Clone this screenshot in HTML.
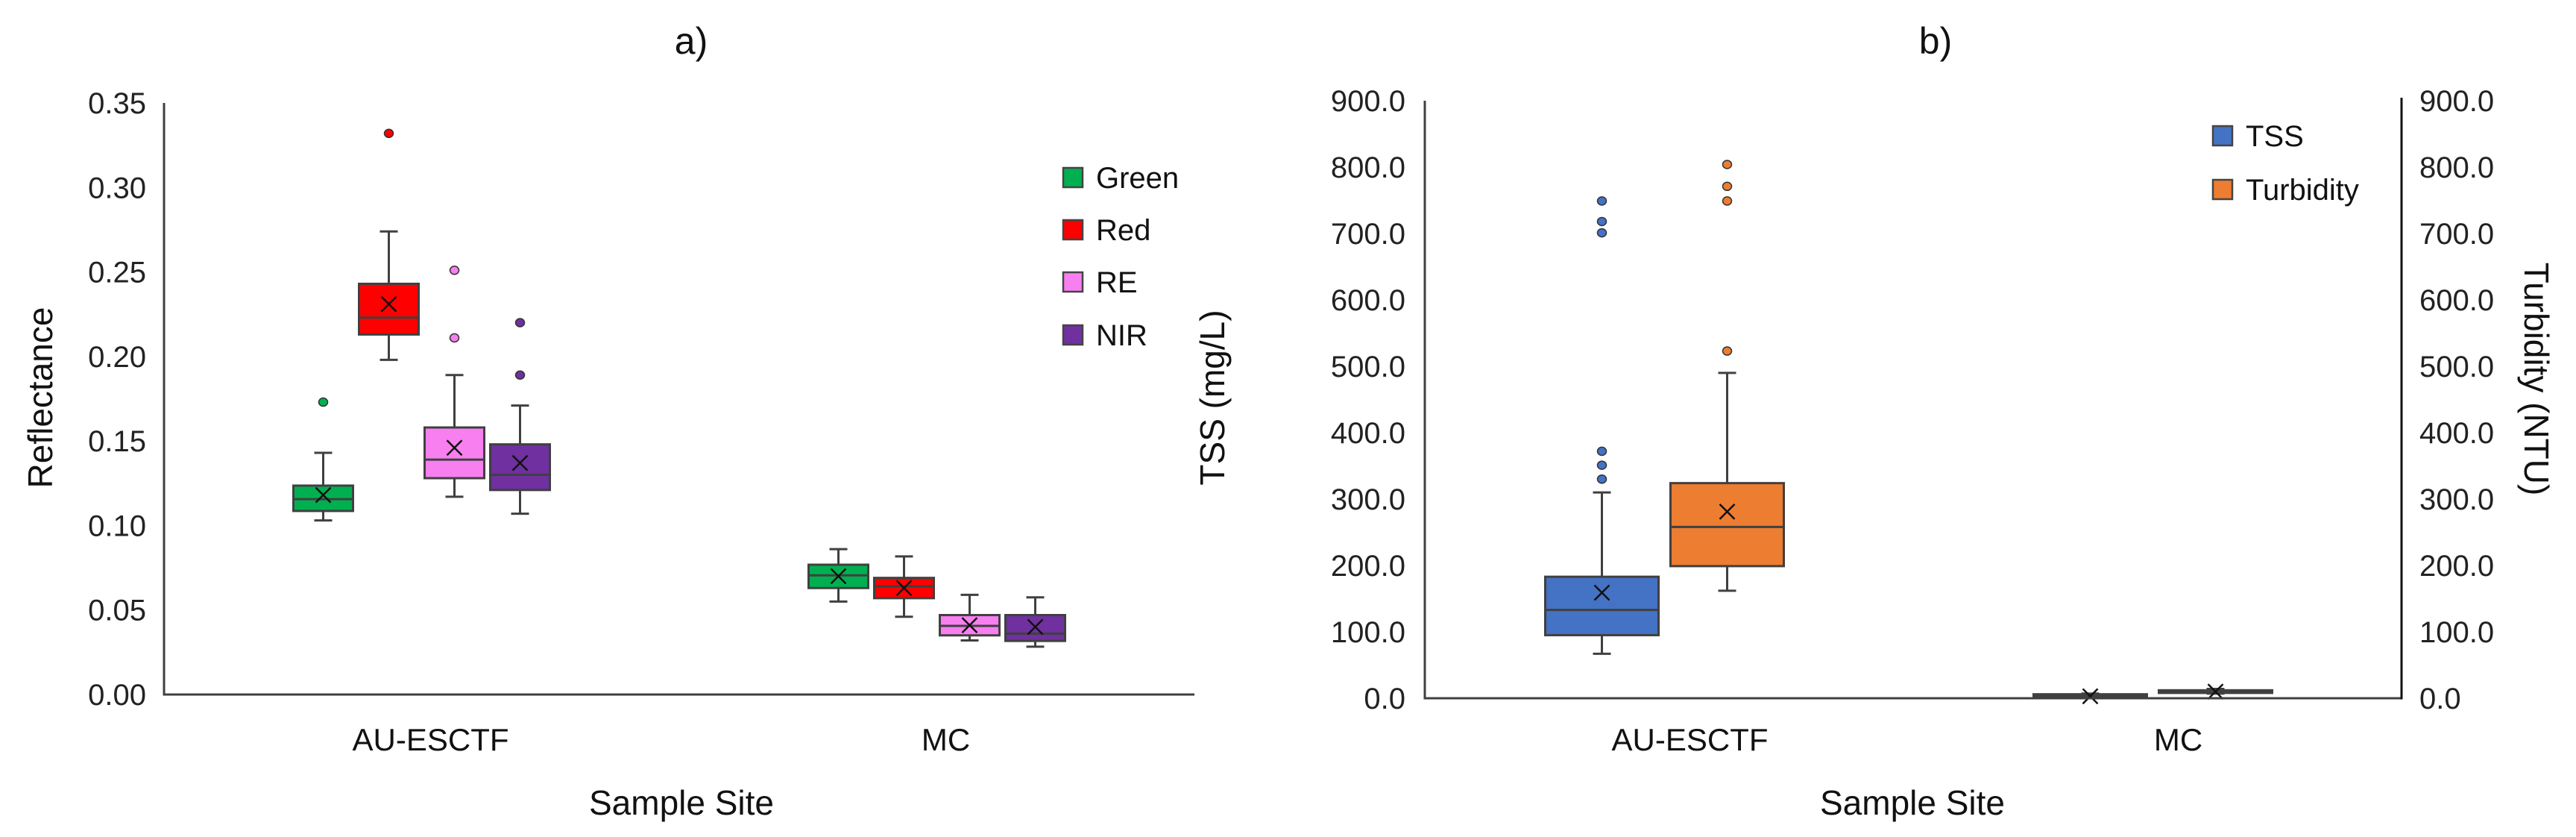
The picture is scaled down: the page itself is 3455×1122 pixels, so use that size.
<!DOCTYPE html>
<html><head><meta charset="utf-8"><style>
html,body{margin:0;padding:0;background:#fff;}
svg{display:block;font-family:"Liberation Sans",sans-serif;}
</style></head><body>
<svg id="chart" width="3455" height="1122" viewBox="0 0 3455 1122" xmlns="http://www.w3.org/2000/svg">
<g id="pa"></g>
<g id="pb"></g>
</svg>
<script>
// ---------- Panel a data ----------
const catsA = ["AU-ESCTF", "MC"];
const seriesA = ["Green", "Red", "RE", "NIR"];
const colorsA = ["#00b050", "#ff0000", "#f77ff0", "#7030a0"];
// [category][series] = [min, q1, median, q3, max]
const statsA = [
  [[0.103,0.1086,0.1156,0.1236,0.143],[0.198,0.213,0.223,0.243,0.274],[0.117,0.128,0.139,0.158,0.189],[0.107,0.121,0.130,0.148,0.171]],
  [[0.055,0.063,0.0705,0.0768,0.086],[0.046,0.057,0.064,0.069,0.0817],[0.032,0.035,0.0406,0.047,0.059],[0.0283,0.0317,0.036,0.047,0.0575]]
];
const meansA = [[0.118,0.231,0.146,0.137],[0.070,0.063,0.041,0.040]];
const outliersA = [[[0.173],[0.332],[0.251,0.211],[0.220,0.189]],[[],[],[],[]]];
const ticksA = [0,0.05,0.10,0.15,0.20,0.25,0.30,0.35];
const tickLabelsA = ["0.00","0.05","0.10","0.15","0.20","0.25","0.30","0.35"];

// ---------- Panel b data ----------
const catsB = ["AU-ESCTF", "MC"];
const seriesB = ["TSS", "Turbidity"];
const colorsB = ["#4472c4", "#ed7d31"];
const statsB = [
  [[67,95,133,183,310],[162,199,258,324,490]],
  [[0.5,1,3,6,7],[7,8,10,12,14]]
];
const meansB = [[159,281],[3,10]];
const outliersB = [[[749,718,701,372,351,330],[804,771,749,523]],[[],[]]];
const ticksB = [0,100,200,300,400,500,600,700,800,900];
const tickLabelsB = ["0.0","100.0","200.0","300.0","400.0","500.0","600.0","700.0","800.0","900.0"];

const NS = "http://www.w3.org/2000/svg";
function mk(parent, tag, attrs, text){
  const e = document.createElementNS(NS, tag);
  for (const k in attrs) e.setAttribute(k, attrs[k]);
  if (text !== undefined) e.textContent = text;
  parent.appendChild(e);
  return e;
}
const AX = "#404040";

function drawPanel(g, o){
  // axis functions
  const y = v => o.y0 - (v - o.vmin)/(o.vmax - o.vmin)*(o.y0 - o.y1);
  const band = (o.x1 - o.x0)/o.cats.length;
  const xc = (ci, si) => o.x0 + band*(ci+0.5) + (si - (o.series.length-1)/2)*o.step + o.shift;

  // tick labels
  o.ticks.forEach((t,i)=>{
    const e = mk(g,"text",{x:o.x0-o.lblGap,y:y(t)+14,"text-anchor":"end","font-size":40,fill:"#222"},o.tickLabels[i]);
    
    
    if (o.right){
      const e2 = mk(g,"text",{x:o.right+24,y:y(t)+14,"text-anchor":"start","font-size":40,fill:"#222"},o.tickLabels[i]);
      
      
    }
  });
  // boxes
  o.stats.forEach((cat,ci)=>{
    cat.forEach((s,si)=>{
      const cx = xc(ci,si), w = o.bw, col = o.colors[si];
      const grp = mk(g,"g",{});
      
      
      const st = {stroke:AX,"stroke-width":3,fill:"none"};
      mk(grp,"line",Object.assign({x1:cx,x2:cx,y1:y(s[4]),y2:y(s[3])},st));
      mk(grp,"line",Object.assign({x1:cx,x2:cx,y1:y(s[1]),y2:y(s[0])},st));
      mk(grp,"line",Object.assign({x1:cx-12,x2:cx+12,y1:y(s[4]),y2:y(s[4])},st));
      mk(grp,"line",Object.assign({x1:cx-12,x2:cx+12,y1:y(s[0]),y2:y(s[0])},st));
      mk(grp,"rect",{x:cx-w/2,y:y(s[3]),width:w,height:Math.max(3,y(s[1])-y(s[3])),fill:col,stroke:AX,"stroke-width":3});
      mk(grp,"line",Object.assign({x1:cx-w/2,x2:cx+w/2,y1:y(s[2]),y2:y(s[2])},st));
      const m = y(o.means[ci][si]), d=10;
      mk(grp,"path",{d:`M${cx-d} ${m-d}L${cx+d} ${m+d}M${cx+d} ${m-d}L${cx-d} ${m+d}`,stroke:"#111","stroke-width":2.5,fill:"none"});
      o.outliers[ci][si].forEach(v=>{
        const c = mk(grp,"ellipse",{cx:cx,cy:y(v),rx:6,ry:5.5,fill:col,stroke:"#333","stroke-width":1.5});
        
        
      });
    });
    const cl = mk(g,"text",{x:o.x0+band*(ci+0.5)+o.lblShift,y:1006,"text-anchor":"middle","font-size":42,fill:"#111"},o.cats[ci]);
    
    
  });
  // axes
  const ya = mk(g,"line",{x1:o.x0,x2:o.x0,y1:o.y1,y2:o.y0+1.5,stroke:AX,"stroke-width":3});
  
  
  const xa = mk(g,"line",{x1:o.x0-1.5,x2:o.x1,y1:o.y0,y2:o.y0,stroke:AX,"stroke-width":3});
  
  
  if (o.right){
    const ra = mk(g,"line",{x1:o.right,x2:o.right,y1:o.y1-4,y2:o.y0+1.5,stroke:"#111","stroke-width":3});
    
    
  }
  // legend
  o.series.forEach((s,i)=>{
    const ly = o.legY[i];
    const r = mk(g,"rect",{x:o.legX,y:ly-13,width:26,height:26,fill:o.colors[i],stroke:"#444","stroke-width":2.5});
    
    
    const t = mk(g,"text",{x:o.legX+44,y:ly+14,"font-size":40,fill:"#111"},s);
    
    
  });
}

const pa = document.getElementById("pa");
drawPanel(pa,{x0:220,x1:1602,y0:931,y1:138,vmin:0,vmax:0.35,cats:catsA,series:seriesA,colors:colorsA,
  stats:statsA,means:meansA,outliers:outliersA,ticks:ticksA,tickLabels:tickLabelsA,
  bw:80,step:88,shift:0,lblGap:24,lblShift:12,legX:1426,legY:[238,308,378,449]});
const pb = document.getElementById("pb");
drawPanel(pb,{x0:1911,x1:3221,y0:936,y1:135,vmin:0,vmax:900,cats:catsB,series:seriesB,colors:colorsB,
  stats:statsB,means:meansB,outliers:outliersB,ticks:ticksB,tickLabels:tickLabelsB,
  bw:152,step:168,shift:-6,lblGap:26,lblShift:28,right:3221,legX:2968,legY:[182,254]});

// titles
let e;
e = mk(pa,"text",{x:927,y:72,"text-anchor":"middle","font-size":50,fill:"#111"},"a)");


e = mk(pb,"text",{x:2596,y:72,"text-anchor":"middle","font-size":50,fill:"#111"},"b)");


e = mk(pa,"text",{x:914,y:1092,"text-anchor":"middle","font-size":46,fill:"#111"},"Sample Site");


e = mk(pb,"text",{x:2565,y:1092,"text-anchor":"middle","font-size":46,fill:"#111"},"Sample Site");


e = mk(pa,"text",{x:0,y:0,"text-anchor":"middle","font-size":46,fill:"#111",transform:"translate(70,533) rotate(-90)"},"Reflectance");


e = mk(pb,"text",{x:0,y:0,"text-anchor":"middle","font-size":46,fill:"#111",transform:"translate(1642,533) rotate(-90)"},"TSS (mg/L)");


e = mk(pb,"text",{x:0,y:0,"text-anchor":"middle","font-size":46,fill:"#111",transform:"translate(3386,508) rotate(90)"},"Turbidity (NTU)");


</script>
</body></html>
